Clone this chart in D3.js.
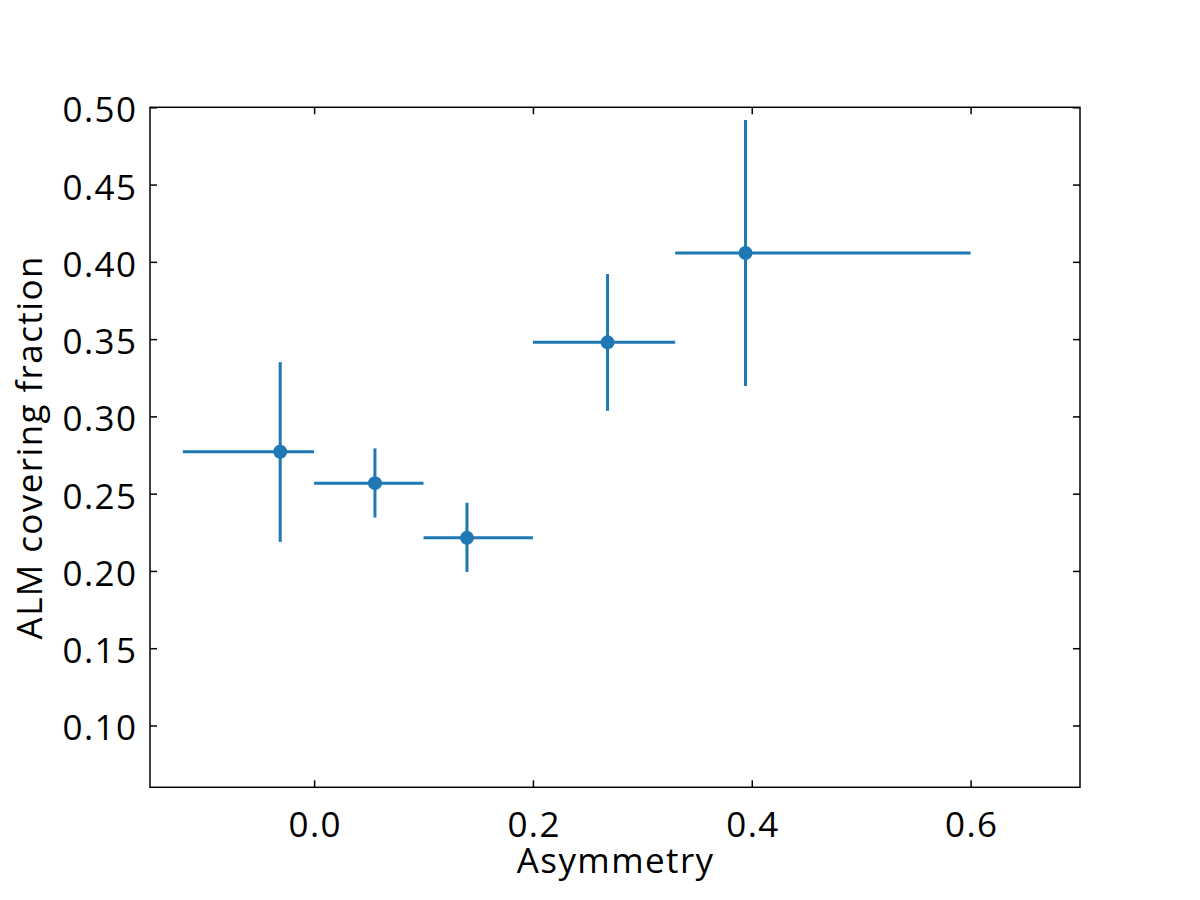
<!DOCTYPE html>
<html>
<head>
<meta charset="utf-8">
<script src="https://cdn.jsdelivr.net/npm/d3@7"></script>
<style>
  html, body { margin: 0; padding: 0; background: #fff; }
  svg { display: block; }
  text { font-family: "Open Sans", "Noto Sans", sans-serif; fill: #000; }
</style>
</head>
<body>
<svg id="chart" width="1200" height="900"></svg>
<script>
// Data
const asymmetry   = [-0.031, 0.0556, 0.1397, 0.2682, 0.3943];
const covering    = [0.2771, 0.2568, 0.2214, 0.3479, 0.4057];
const xLow        = [-0.12, 0.0, 0.1, 0.2, 0.33];
const xHigh       = [0.0, 0.1, 0.2, 0.33, 0.6];
const yLow        = [0.2188, 0.2346, 0.1994, 0.3036, 0.3196];
const yHigh       = [0.3351, 0.2793, 0.2441, 0.3921, 0.4918];
const xTicks      = [0.0, 0.2, 0.4, 0.6];
const yTicks      = [0.10, 0.15, 0.20, 0.25, 0.30, 0.35, 0.40, 0.45, 0.50];
const xLabel      = "Asymmetry";
const yLabel      = "ALM covering fraction";

const color = "#1f77b4";
const margin = { left: 150, right: 120, top: 107.3, bottom: 112.7 };
const W = 1200, H = 900;
const FS = 35, LS = "1.4px";
const svg = d3.select("#chart");

const x = d3.scaleLinear().domain([-0.15, 0.7]).range([margin.left, W - margin.right]);
const y = d3.scaleLinear().domain([0.06, 0.50]).range([H - margin.bottom, margin.top]);

const pts = asymmetry.map((v, i) => ({
  x: v, y: covering[i], x0: xLow[i], x1: xHigh[i], y0: yLow[i], y1: yHigh[i]
}));

// Error bars
const g = svg.append("g");
g.selectAll("line.xerr").data(pts).join("line")
  .attr("class", "xerr")
  .attr("x1", d => x(d.x0)).attr("x2", d => x(d.x1))
  .attr("y1", d => y(d.y)).attr("y2", d => y(d.y))
  .attr("stroke", color).attr("stroke-width", 3);
g.selectAll("line.yerr").data(pts).join("line")
  .attr("class", "yerr")
  .attr("x1", d => x(d.x)).attr("x2", d => x(d.x))
  .attr("y1", d => y(d.y0)).attr("y2", d => y(d.y1))
  .attr("stroke", color).attr("stroke-width", 3);
g.selectAll("circle").data(pts).join("circle")
  .attr("cx", d => x(d.x)).attr("cy", d => y(d.y))
  .attr("r", 7).attr("fill", color);

// Axes with inward ticks on all sides
const tickLen = 7;
const fmtX = d3.format(".1f");
const fmtY = d3.format(".2f");

const axB = svg.append("g").attr("transform", `translate(0,${H - margin.bottom})`)
  .call(d3.axisBottom(x).tickValues(xTicks).tickSizeInner(-tickLen).tickSizeOuter(0).tickFormat(fmtX));
const axT = svg.append("g").attr("transform", `translate(0,${margin.top})`)
  .call(d3.axisTop(x).tickValues(xTicks).tickSizeInner(-tickLen).tickSizeOuter(0).tickFormat(""));
const axL = svg.append("g").attr("transform", `translate(${margin.left},0)`)
  .call(d3.axisLeft(y).tickValues(yTicks).tickSizeInner(-tickLen).tickSizeOuter(0).tickFormat(fmtY));
const axR = svg.append("g").attr("transform", `translate(${W - margin.right},0)`)
  .call(d3.axisRight(y).tickValues(yTicks).tickSizeInner(-tickLen).tickSizeOuter(0).tickFormat(""));

[axB, axT, axL, axR].forEach(a => {
  a.select(".domain").remove();
  a.selectAll(".tick line").attr("stroke", "#000").attr("stroke-width", 1.5);
});

axB.selectAll(".tick text")
  .attr("font-size", FS).attr("fill", "#000").style("letter-spacing", LS)
  .attr("y", 50).attr("dy", 0).attr("dx", 0.7)
  .attr("font-family", "'Open Sans', 'Noto Sans', sans-serif");
axL.selectAll(".tick text")
  .attr("font-size", FS).attr("fill", "#000").style("letter-spacing", LS)
  .attr("x", -12.6).attr("dy", 0).attr("y", 14.5)
  .attr("font-family", "'Open Sans', 'Noto Sans', sans-serif");

// Frame
svg.append("rect")
  .attr("x", margin.left).attr("y", margin.top)
  .attr("width", W - margin.right - margin.left)
  .attr("height", H - margin.bottom - margin.top)
  .attr("fill", "none").attr("stroke", "#000").attr("stroke-width", 1.5);

// Axis labels
svg.append("text")
  .attr("x", (margin.left + W - margin.right) / 2 + 0.7).attr("y", 873)
  .attr("text-anchor", "middle").attr("font-size", FS).style("letter-spacing", LS)
  .text(xLabel);
svg.append("text")
  .attr("transform", `translate(42,${(margin.top + H - margin.bottom) / 2}) rotate(-90)`)
  .attr("text-anchor", "middle").attr("font-size", FS).style("letter-spacing", LS)
  .text(yLabel);
</script>
</body>
</html>
